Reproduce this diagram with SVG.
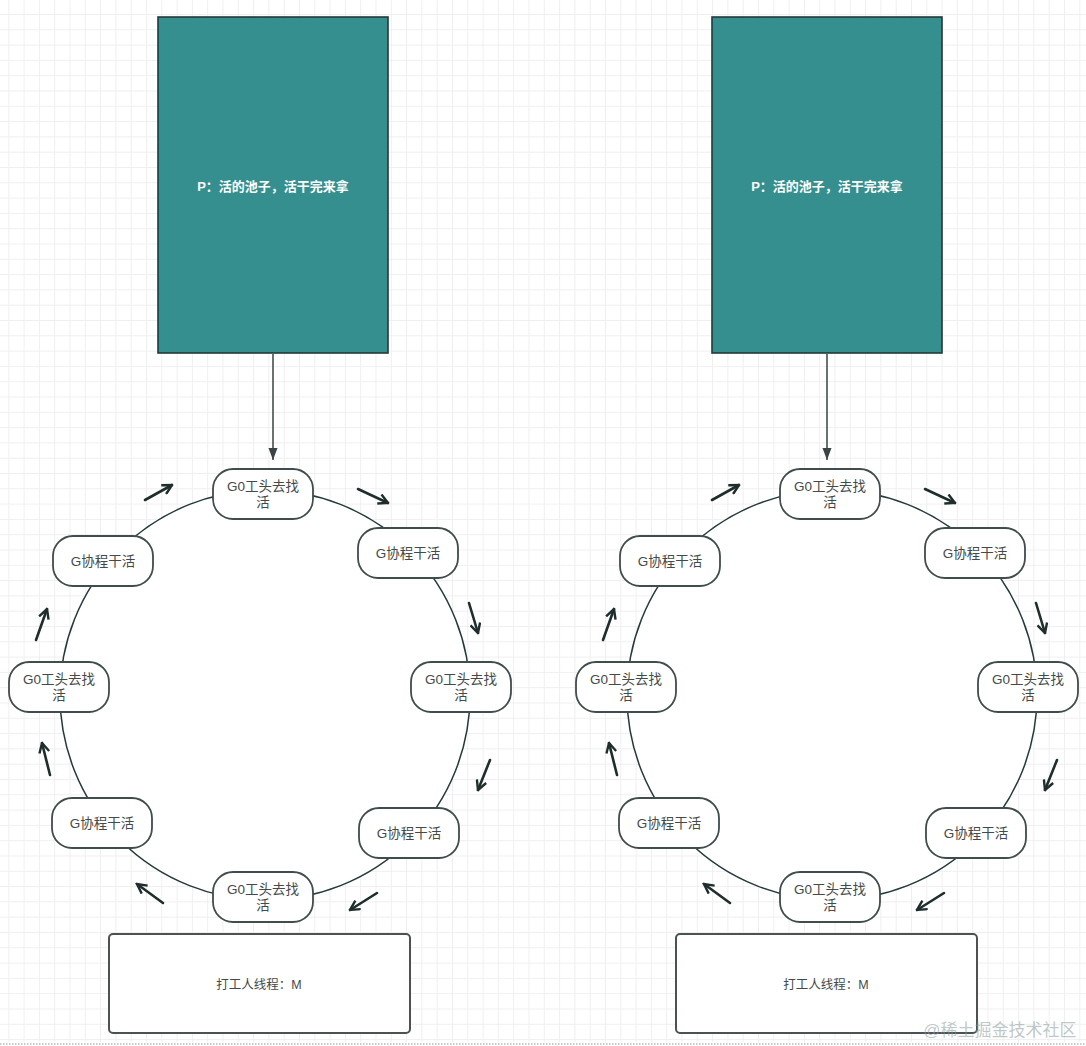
<svg xmlns="http://www.w3.org/2000/svg" width="1086" height="1046" viewBox="0 0 1086 1046">
<defs>
<pattern id="grid" x="8.3" y="14" width="15.3" height="15.3" patternUnits="userSpaceOnUse">
<path d="M0,0 H15.3 M0,0 V15.3" fill="none" stroke="#efefef" stroke-width="2"/>
</pattern>
<marker id="open" viewBox="0 0 12 12" refX="10.5" refY="6" markerWidth="12" markerHeight="12" markerUnits="userSpaceOnUse" orient="auto">
<path d="M1,1 L10.5,6 L1,11" fill="none" stroke="#1f2d2d" stroke-width="2.4" stroke-linejoin="miter"/>
</marker>
<marker id="solid" viewBox="0 0 10 12" refX="5" refY="12" markerWidth="10" markerHeight="12" markerUnits="userSpaceOnUse" orient="0">
<path d="M0.5,0 L9.5,0 L5,12 Z" fill="#3a4444"/>
</marker>
</defs>
<style>
.teal{fill:#368f8f;stroke:#24393a;stroke-width:1.6}
.node{fill:#ffffff;stroke:#414c4c;stroke-width:1.8}
.box{fill:#ffffff;stroke:#4a5252;stroke-width:2}
.ring{fill:#ffffff;stroke:#243a3a;stroke-width:1.5}
.lbl{font-family:"Liberation Sans","Noto Sans CJK SC",sans-serif;font-size:13.5px;fill:#444a4a;text-anchor:middle}
.plbl{font-family:"Liberation Sans","Noto Sans CJK SC",sans-serif;font-size:13px;font-weight:600;fill:#ffffff;text-anchor:middle}
.mlbl{font-family:"Liberation Sans","Noto Sans CJK SC",sans-serif;font-size:12.5px;fill:#444a4a;text-anchor:middle}
.flow{fill:none;stroke:#1f2d2d;stroke-width:2.6;stroke-linecap:round;marker-end:url(#open)}
.feed{fill:none;stroke:#454e4e;stroke-width:1.6;marker-end:url(#solid)}
</style>
<rect x="0" y="0" width="1086" height="1046" fill="#ffffff"/>
<rect x="0" y="0" width="1086" height="1042" fill="url(#grid)"/>
<line x1="0" y1="1044" x2="1086" y2="1044" stroke="#b8b8b8" stroke-width="1.5" stroke-dasharray="1.5 1.5"/>

<g id="rings">
<circle class="ring" cx="265" cy="695" r="205"/>
<circle class="ring" cx="832" cy="695" r="205"/>
</g>

<g id="connectors">
<line class="feed" x1="273" y1="354" x2="273" y2="460"/>
<line class="feed" x1="827" y1="354" x2="827" y2="460"/>
<path class="flow" d="M145,500 L172,485"/>
<path class="flow" d="M358,489 L388,503"/>
<path class="flow" d="M469,603 L478,633"/>
<path class="flow" d="M490,760 L478,790"/>
<path class="flow" d="M377,893 L350,910"/>
<path class="flow" d="M163,903 L137,884"/>
<path class="flow" d="M50,775 L42,743"/>
<path class="flow" d="M36,640 L47,609"/>
<path class="flow" d="M712,500 L739,485"/>
<path class="flow" d="M925,489 L955,503"/>
<path class="flow" d="M1036,603 L1045,633"/>
<path class="flow" d="M1057,760 L1045,790"/>
<path class="flow" d="M944,893 L917,910"/>
<path class="flow" d="M730,903 L704,884"/>
<path class="flow" d="M617,775 L609,743"/>
<path class="flow" d="M603,640 L614,609"/>
</g>

<g id="p-left"><rect class="teal" x="158" y="17" width="230" height="336"/><text class="plbl" x="273" y="190.5">P：活的池子，活干完来拿</text></g>
<g id="p-right"><rect class="teal" x="712" y="17" width="230" height="336"/><text class="plbl" x="827" y="190.5">P：活的池子，活干完来拿</text></g>

<g id="l-g0-top"><rect class="node" x="213" y="469" width="100" height="50" rx="20"/><text class="lbl" x="263" y="491">G0工头去找</text><text class="lbl" x="263" y="507">活</text></g>
<g id="l-g-tr"><rect class="node" x="358" y="528" width="100" height="50" rx="20"/><text class="lbl" x="408" y="558">G协程干活</text></g>
<g id="l-g0-right"><rect class="node" x="411" y="662" width="100" height="50" rx="20"/><text class="lbl" x="461" y="684">G0工头去找</text><text class="lbl" x="461" y="700">活</text></g>
<g id="l-g-br"><rect class="node" x="359" y="808" width="100" height="50" rx="20"/><text class="lbl" x="409" y="838">G协程干活</text></g>
<g id="l-g0-bottom"><rect class="node" x="213" y="872" width="100" height="50" rx="20"/><text class="lbl" x="263" y="894">G0工头去找</text><text class="lbl" x="263" y="910">活</text></g>
<g id="l-g-bl"><rect class="node" x="52" y="798" width="100" height="50" rx="20"/><text class="lbl" x="102" y="828">G协程干活</text></g>
<g id="l-g0-left"><rect class="node" x="9" y="662" width="100" height="50" rx="20"/><text class="lbl" x="59" y="684">G0工头去找</text><text class="lbl" x="59" y="700">活</text></g>
<g id="l-g-tl"><rect class="node" x="53" y="536" width="100" height="50" rx="20"/><text class="lbl" x="103" y="566">G协程干活</text></g>

<g id="r-g0-top"><rect class="node" x="780" y="469" width="100" height="50" rx="20"/><text class="lbl" x="830" y="491">G0工头去找</text><text class="lbl" x="830" y="507">活</text></g>
<g id="r-g-tr"><rect class="node" x="925" y="528" width="100" height="50" rx="20"/><text class="lbl" x="975" y="558">G协程干活</text></g>
<g id="r-g0-right"><rect class="node" x="978" y="662" width="100" height="50" rx="20"/><text class="lbl" x="1028" y="684">G0工头去找</text><text class="lbl" x="1028" y="700">活</text></g>
<g id="r-g-br"><rect class="node" x="926" y="808" width="100" height="50" rx="20"/><text class="lbl" x="976" y="838">G协程干活</text></g>
<g id="r-g0-bottom"><rect class="node" x="780" y="872" width="100" height="50" rx="20"/><text class="lbl" x="830" y="894">G0工头去找</text><text class="lbl" x="830" y="910">活</text></g>
<g id="r-g-bl"><rect class="node" x="619" y="798" width="100" height="50" rx="20"/><text class="lbl" x="669" y="828">G协程干活</text></g>
<g id="r-g0-left"><rect class="node" x="576" y="662" width="100" height="50" rx="20"/><text class="lbl" x="626" y="684">G0工头去找</text><text class="lbl" x="626" y="700">活</text></g>
<g id="r-g-tl"><rect class="node" x="620" y="536" width="100" height="50" rx="20"/><text class="lbl" x="670" y="566">G协程干活</text></g>

<g id="m-left"><rect class="box" x="109" y="934" width="301" height="99" rx="4"/><text class="mlbl" x="259" y="989">打工人线程：M</text></g>
<g id="m-right"><rect class="box" x="676" y="934" width="301" height="99" rx="4"/><text class="mlbl" x="826" y="989">打工人线程：M</text></g>

<text x="1000" y="1036" font-family="'Liberation Sans','Noto Sans CJK SC',sans-serif" font-size="17" fill="#8a9a9a" fill-opacity="0.55" text-anchor="middle">@稀土掘金技术社区</text>
</svg>
